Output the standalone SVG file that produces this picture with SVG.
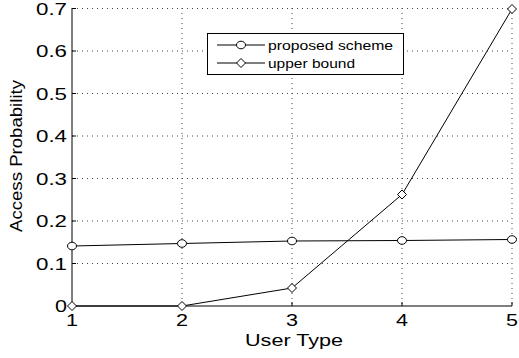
<svg xmlns="http://www.w3.org/2000/svg" width="519" height="358" viewBox="0 0 519 358">
<style>
.grid{stroke:#444;stroke-width:1;stroke-dasharray:1 4;fill:none}
.axis{stroke:#000;stroke-width:1;fill:none}
.tick{stroke:#000;stroke-width:1}
.data{stroke:#000;stroke-width:1;fill:none}
.mk{stroke:#000;stroke-width:1;fill:#fff}
.lbl{font-family:"Liberation Sans",Arial,sans-serif;font-size:16.5px;fill:#000}
.leg{font-family:"Liberation Sans",Arial,sans-serif;font-size:13px;fill:#000}
</style>
<defs>
<g id="circ"><ellipse cx="0" cy="0" rx="4.5" ry="3.8" class="mk"/></g>
<g id="diam"><polygon points="0,-4.5 4.5,0 0,4.5 -4.5,0" class="mk"/></g>
</defs>
<rect width="519" height="358" fill="#fff"/>
<g id="grid">
<line class="grid" x1="72" y1="8.5" x2="512" y2="8.5"/>
<line class="grid" x1="72" y1="51" x2="512" y2="51"/>
<line class="grid" x1="72" y1="93.5" x2="512" y2="93.5"/>
<line class="grid" x1="72" y1="136" x2="512" y2="136"/>
<line class="grid" x1="72" y1="178.5" x2="512" y2="178.5"/>
<line class="grid" x1="72" y1="221" x2="512" y2="221"/>
<line class="grid" x1="72" y1="263.5" x2="512" y2="263.5"/>
<line class="grid" x1="182" y1="8" x2="182" y2="306"/>
<line class="grid" x1="292" y1="8" x2="292" y2="306"/>
<line class="grid" x1="402" y1="8" x2="402" y2="306"/>
<line class="grid" x1="512" y1="8" x2="512" y2="306"/>
</g>
<g id="axes">
<line class="axis" x1="72" y1="8" x2="72" y2="306"/>
<line x1="72" y1="306" x2="512" y2="306" stroke="#555" stroke-width="1.5"/>
<g class="tick">
<line x1="72" y1="8.5" x2="76" y2="8.5"/>
<line x1="72" y1="51" x2="76" y2="51"/>
<line x1="72" y1="93.5" x2="76" y2="93.5"/>
<line x1="72" y1="136" x2="76" y2="136"/>
<line x1="72" y1="178.5" x2="76" y2="178.5"/>
<line x1="72" y1="221" x2="76" y2="221"/>
<line x1="72" y1="263.5" x2="76" y2="263.5"/>
<line x1="182" y1="306" x2="182" y2="302"/>
<line x1="292" y1="306" x2="292" y2="302"/>
<line x1="402" y1="306" x2="402" y2="302"/>
<line x1="512" y1="306" x2="512" y2="302"/>
</g>
</g>
<g id="ylabels" class="lbl">
<text x="36" y="14.5" textLength="31" lengthAdjust="spacingAndGlyphs">0.7</text>
<text x="36" y="57" textLength="31" lengthAdjust="spacingAndGlyphs">0.6</text>
<text x="36" y="99.5" textLength="31" lengthAdjust="spacingAndGlyphs">0.5</text>
<text x="36" y="142" textLength="31" lengthAdjust="spacingAndGlyphs">0.4</text>
<text x="36" y="184.5" textLength="31" lengthAdjust="spacingAndGlyphs">0.3</text>
<text x="36" y="227" textLength="31" lengthAdjust="spacingAndGlyphs">0.2</text>
<text x="36" y="269.5" textLength="31" lengthAdjust="spacingAndGlyphs">0.1</text>
<text x="55" y="312" textLength="12" lengthAdjust="spacingAndGlyphs">0</text>
</g>
<g id="xlabels" class="lbl">
<text x="66" y="326" textLength="12" lengthAdjust="spacingAndGlyphs">1</text>
<text x="176" y="326" textLength="12" lengthAdjust="spacingAndGlyphs">2</text>
<text x="286" y="326" textLength="12" lengthAdjust="spacingAndGlyphs">3</text>
<text x="396" y="326" textLength="12" lengthAdjust="spacingAndGlyphs">4</text>
<text x="506" y="326" textLength="12" lengthAdjust="spacingAndGlyphs">5</text>
<text x="245" y="346" textLength="98" lengthAdjust="spacingAndGlyphs">User Type</text>
<text transform="translate(22,232) rotate(-90)" textLength="152" lengthAdjust="spacingAndGlyphs">Access Probability</text>
</g>
<g id="connectors">
<polyline class="data" points="72,246 182,243.5 292,241 402,240.5 512,239.5"/>
<polyline class="data" points="72,306 182,306 292,288 402,194.5 512,9"/>
</g>
<g id="series-proposed">
<use href="#circ" x="72" y="246"/>
<use href="#circ" x="182" y="243.5"/>
<use href="#circ" x="292" y="241"/>
<use href="#circ" x="402" y="240.5"/>
<use href="#circ" x="512" y="239.5"/>
</g>
<g id="series-upper">
<use href="#diam" x="72" y="306"/>
<use href="#diam" x="182" y="306"/>
<use href="#diam" x="292" y="288"/>
<use href="#diam" x="402" y="194.5"/>
<use href="#diam" x="512" y="9"/>
</g>
<g id="legend">
<rect x="207.5" y="33.5" width="196" height="41" fill="#fff" stroke="#000" stroke-width="1"/>
<line class="data" x1="217" y1="45" x2="265" y2="45"/>
<use href="#circ" x="241" y="45"/>
<line class="data" x1="217" y1="63" x2="265" y2="63"/>
<use href="#diam" x="241" y="63"/>
<text class="leg" x="268" y="49.5" textLength="125" lengthAdjust="spacingAndGlyphs">proposed scheme</text>
<text class="leg" x="268" y="67.5" textLength="87" lengthAdjust="spacingAndGlyphs">upper bound</text>
</g>
</svg>
